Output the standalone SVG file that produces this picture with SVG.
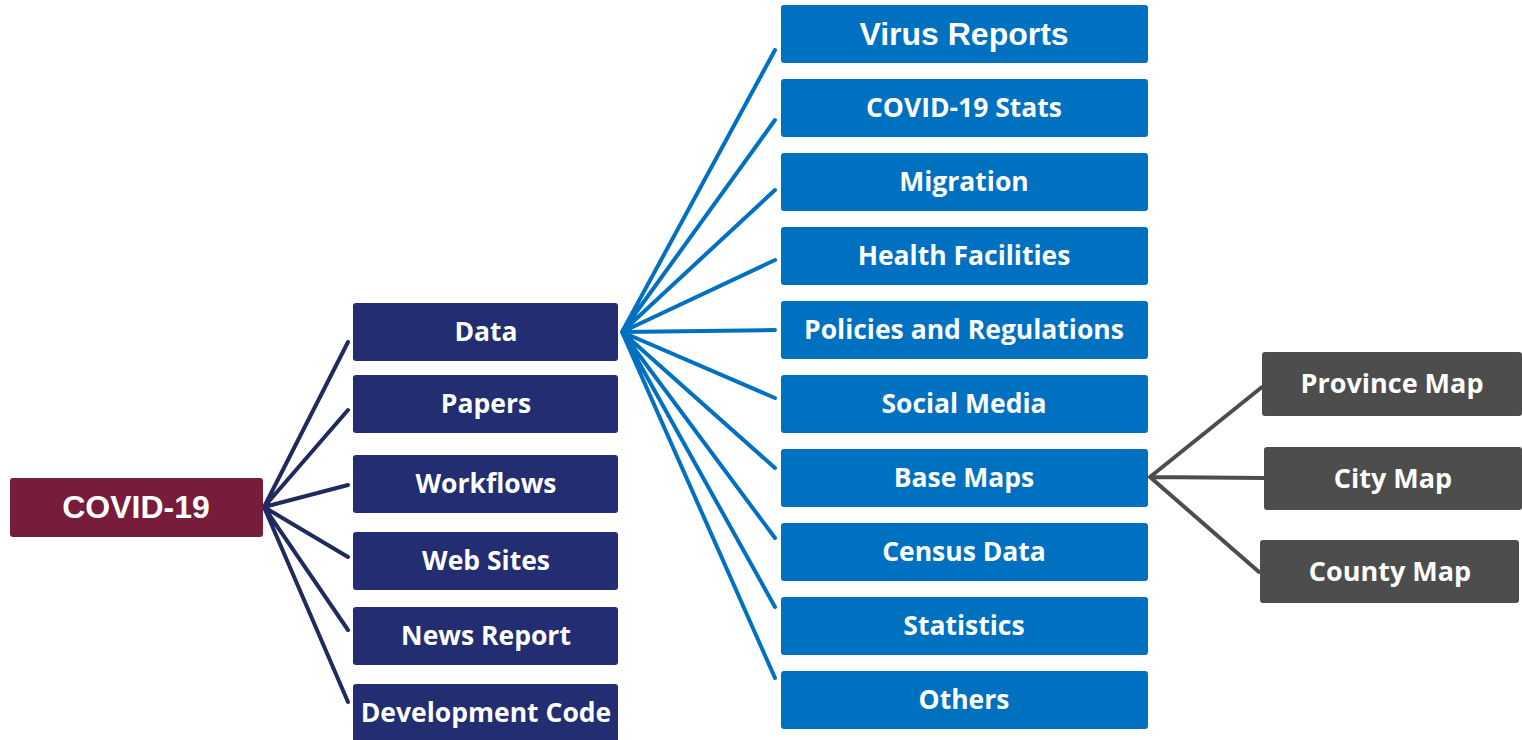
<svg xmlns="http://www.w3.org/2000/svg" width="1522" height="740" viewBox="0 0 1522 740">
<style>
.root{fill:#771C3B}
.l1{fill:#222D72}
.l2{fill:#0071C1}
.l3{fill:#4D4D4D}
.t{fill:#fff;font-family:"Open Sans",Lato,sans-serif;font-weight:bold;font-size:26.5px;text-anchor:middle}
.tg{font-size:27px}
.ta{fill:#fff;font-family:"Liberation Sans",Arial,sans-serif;font-weight:bold;text-anchor:middle}
.c1{stroke:#1F2A5E;stroke-width:4;fill:none;stroke-linecap:round}
.c2{stroke:#0070C0;stroke-width:4;fill:none;stroke-linecap:round}
.c3{stroke:#4D4D4D;stroke-width:4;fill:none;stroke-linecap:round}
</style>
<rect width="1522" height="740" fill="#fff"/>
<g id="connectors">
<path class="c1" d="M264 507L348 342M264 507L348 410M264 507L348 485M264 507L348 557M264 507L348 630M264 507L348 702"/>
<path class="c2" d="M622 332L775 50M622 332L775 120M622 332L775 190M622 332L775 260M622 332L775 330M622 332L775 398M622 332L775 468M622 332L775 538M622 332L775 607M622 332L775 678"/>
<path class="c3" d="M1150 477L1262 387M1150 477L1264 478M1150 477L1259 572"/>
</g>
<g id="covid19"><rect class="root" x="10" y="478" width="253" height="59" rx="3"/><text class="ta" x="136" y="518" font-size="32">COVID-19</text></g>
<g id="data"><rect class="l1" x="353" y="303" width="265" height="58" rx="3"/><text class="t" x="486" y="341">Data</text></g>
<g id="papers"><rect class="l1" x="353" y="375" width="265" height="58" rx="3"/><text class="t" x="486" y="413">Papers</text></g>
<g id="workflows"><rect class="l1" x="353" y="455" width="265" height="58" rx="3"/><text class="t" x="486" y="493">Workflows</text></g>
<g id="websites"><rect class="l1" x="353" y="532" width="265" height="58" rx="3"/><text class="t" x="486" y="570">Web Sites</text></g>
<g id="newsreport"><rect class="l1" x="353" y="607" width="265" height="58" rx="3"/><text class="t" x="486" y="645">News Report</text></g>
<g id="devcode"><rect class="l1" x="353" y="684" width="265" height="62" rx="3"/><text class="t" x="486" y="722">Development Code</text></g>
<g id="virusreports"><rect class="l2" x="781" y="5" width="367" height="58" rx="3"/><text class="ta" x="964" y="45" font-size="32">Virus Reports</text></g>
<g id="covidstats"><rect class="l2" x="781" y="79" width="367" height="58" rx="3"/><text class="t" x="964" y="117">COVID-19 Stats</text></g>
<g id="migration"><rect class="l2" x="781" y="153" width="367" height="58" rx="3"/><text class="t" x="964" y="191">Migration</text></g>
<g id="healthfacilities"><rect class="l2" x="781" y="227" width="367" height="58" rx="3"/><text class="t" x="964" y="265">Health Facilities</text></g>
<g id="policies"><rect class="l2" x="781" y="301" width="367" height="58" rx="3"/><text class="t" x="964" y="339">Policies and Regulations</text></g>
<g id="socialmedia"><rect class="l2" x="781" y="375" width="367" height="58" rx="3"/><text class="t" x="964" y="413">Social Media</text></g>
<g id="basemaps"><rect class="l2" x="781" y="449" width="367" height="58" rx="3"/><text class="t" x="964" y="487">Base Maps</text></g>
<g id="census"><rect class="l2" x="781" y="523" width="367" height="58" rx="3"/><text class="t" x="964" y="561">Census Data</text></g>
<g id="statistics"><rect class="l2" x="781" y="597" width="367" height="58" rx="3"/><text class="t" x="964" y="635">Statistics</text></g>
<g id="others"><rect class="l2" x="781" y="671" width="367" height="58" rx="3"/><text class="t" x="964" y="709">Others</text></g>
<g id="province"><rect class="l3" x="1262" y="352" width="260" height="64" rx="3"/><text class="t tg" x="1392" y="393">Province Map</text></g>
<g id="city"><rect class="l3" x="1264" y="447" width="258" height="63" rx="3"/><text class="t tg" x="1393" y="488">City Map</text></g>
<g id="county"><rect class="l3" x="1260" y="540" width="259" height="63" rx="3"/><text class="t tg" x="1390" y="581">County Map</text></g>
</svg>
